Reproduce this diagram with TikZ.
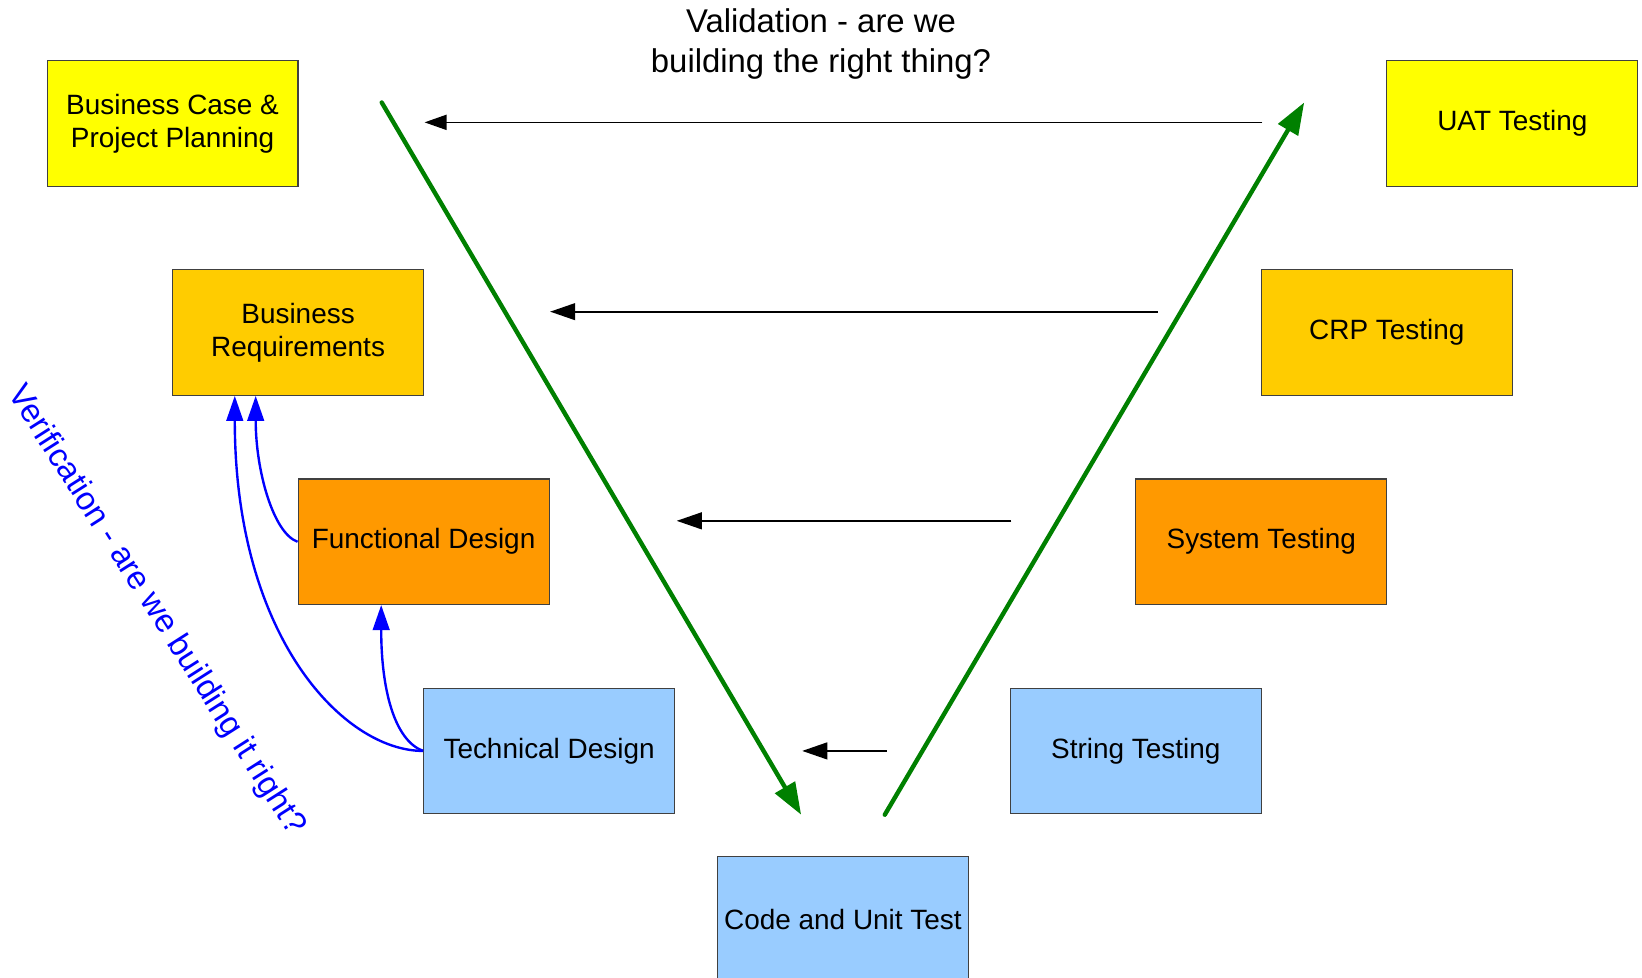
\documentclass[tikz,border=0pt]{standalone}
\usepackage{fontspec}
\setmainfont{Liberation Sans}
\usetikzlibrary{arrows.meta}
\definecolor{planyellow}{HTML}{FFFF00}
\definecolor{reqgold}{HTML}{FFCC00}
\definecolor{designorange}{HTML}{FF9900}
\definecolor{buildblue}{HTML}{99CCFF}
\definecolor{vgreen}{HTML}{008000}

\begin{document}
\begin{tikzpicture}[x=0.02cm, y=-0.02cm,
    stage/.style={draw=black!75, line width=0.6pt, minimum width=4.8cm, minimum height=2.4cm,
        align=center, inner sep=1pt, font=\fontsize{15.2}{18}\selectfont},
    plan/.style={stage, fill=planyellow},
    req/.style={stage, fill=reqgold},
    design/.style={stage, fill=designorange},
    build/.style={stage, fill=buildblue},
    vline/.style={vgreen, line width=2.4pt, line cap=round, -{Triangle[length=0.61cm, width=0.43cm]}},
    crossarrow/.style={line width=1.1pt, -{Triangle[length=0.48cm, width=0.32cm]}},
    checkarrow/.style={blue, line width=1.3pt, -{Triangle[length=0.48cm, width=0.32cm]}}]
    \useasboundingbox (0,0) rectangle (1570,935);
    % Left side of the V
    \node[plan] (bc) at (165,118) {Business Case \&\\Project Planning};
    \node[req] (br) at (285,318) {Business\\Requirements};
    \node[design] (fd) at (405,518) {Functional Design};
    \node[build] (td) at (525,718) {Technical Design};
    % Bottom of the V
    \node[build] (cut) at (806,879) {Code and Unit Test};
    % Right side of the V
    \node[build] (st) at (1086,718) {String Testing};
    \node[design] (sys) at (1206,518) {System Testing};
    \node[req] (crp) at (1326,318) {CRP Testing};
    \node[plan] (uat) at (1446,118) {UAT Testing};
    % Green V
    \coordinate (downstart) at (365,98);
    \coordinate (downend) at (766,779);
    \coordinate (upstart) at (846,779);
    \coordinate (upend) at (1247,98);
    \draw[vline] (downstart) -- (downend);
    \draw[vline] (upstart) -- (upend);
    % Validation arrows
    \coordinate (uatfrom) at (1207,117);
    \coordinate (uatto) at (406,117);
    \coordinate (crpfrom) at (1107,298);
    \coordinate (crpto) at (526,298);
    \coordinate (sysfrom) at (967,498);
    \coordinate (systo) at (647,498);
    \coordinate (stfrom) at (848,718);
    \coordinate (stto) at (767,718);
    \draw[line width=0.7pt, -{Triangle[length=0.42cm, width=0.29cm]}] (uatfrom) -- (uatto);
    \draw[crossarrow] (crpfrom) -- (crpto);
    \draw[crossarrow] (sysfrom) -- (systo);
    \draw[crossarrow] (stfrom) -- (stto);
    \node[align=center, font=\fontsize{17.9}{21.5}\selectfont] (valid) at (785,42)
        {Validation - are we\\building the right thing?};
    % Verification arrows
    \draw[checkarrow] (fd.west) .. controls +(-23,-8) and +(0,72) .. ([xshift=1.6cm]br.south west);
    \draw[checkarrow] (td.west) .. controls +(-27,-10) and +(0,82) .. ([xshift=1.6cm]fd.south west);
    \draw[checkarrow] (td.west) .. controls +(-75,0) and +(0,232) .. ([xshift=1.2cm]br.south west);
    \node[blue, rotate=-57.5, font=\fontsize{17.8}{20}\selectfont] (verif) at (149,584)
        {Verification - are we building it right?};
\end{tikzpicture}
\end{document}
